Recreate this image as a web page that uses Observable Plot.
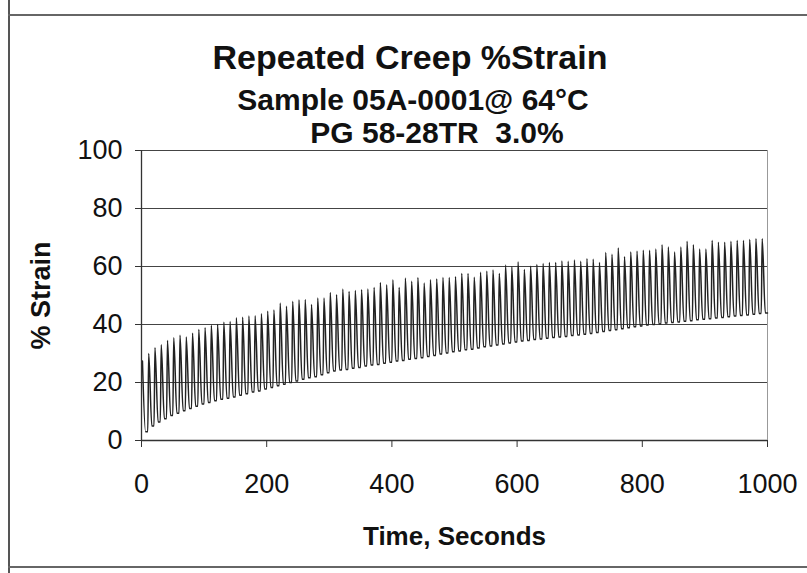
<!DOCTYPE html>
<html><head><meta charset="utf-8">
<script src="https://cdn.jsdelivr.net/npm/d3@7"></script>
<script src="https://cdn.jsdelivr.net/npm/@observablehq/plot@0.6"></script>
<style>
body{margin:0;background:#fff;}
#page{position:relative;width:807px;height:573px;overflow:hidden;font-family:"Liberation Sans",Arial,sans-serif;background:#fff;}
#head{position:relative;width:807px;height:120px;z-index:2;}
.t{position:absolute;font-weight:bold;color:#111;white-space:nowrap;transform:translateX(-50%);line-height:1;}
.edge{position:absolute;background:#555;}
#chart{position:relative;}
</style></head>
<body>
<div id="page">
  <div class="edge" style="left:8px;top:0;width:1.5px;height:573px;"></div>
  <div class="edge" style="left:8px;top:14px;width:799px;height:1.5px;background:#666;"></div>
  <div class="edge" style="left:8px;top:566px;width:799px;height:1.5px;background:#666;"></div>
  <div id="head">
    <div class="t" id="title" style="left:410px;top:40px;font-size:34px;"></div>
    <div class="t" id="sub1" style="left:413px;top:85px;font-size:30px;"></div>
    <div class="t" id="sub2" style="left:437px;top:118px;font-size:30px;"></div>
  </div>
  <div id="chart"></div>
</div>
<script>
const titleText = "Repeated Creep %Strain";
const subtitle1 = "Sample 05A-0001@ 64°C";
const subtitle2 = "PG 58-28TR\u00a0\u00a03.0%";
const xLabel = "Time, Seconds";
const yLabel = "% Strain";
const xTicks = [0, 200, 400, 600, 800, 1000];
const yTicks = [0, 20, 40, 60, 80, 100];

// peak % strain of each 10-second load cycle (100 cycles)
const peaks = [
  27.4, 30, 32, 33, 34.5, 35.4, 36.3, 35.7, 37, 38.3,
  38.9, 39.7, 40, 40.8, 41, 42.3, 42.5, 42.9, 43, 43.7,
  44.6, 45, 47.4, 46.3, 48, 48.5, 48.6, 46.9, 49.1, 49.1,
  51, 50.3, 52.2, 51.4, 51.7, 52, 52.2, 52.8, 54.5, 53.7,
  55.4, 52.8, 56, 54.9, 56.2, 54.3, 55.4, 55.7, 56.2, 56.2,
  56.5, 57.6, 57.6, 56.3, 58, 58.4, 58.8, 57.6, 60.5, 59.9,
  61.6, 59, 60.1, 60.7, 61, 61.4, 61.4, 61.9, 61.8, 62.2,
  61.8, 62.7, 62.5, 61.4, 64.8, 64.2, 66.4, 63.4, 65, 65.3,
  65.6, 65.6, 66, 67.5, 66.7, 65, 66.7, 68.7, 67.5, 66,
  66, 69, 68.4, 68.4, 68.7, 69, 69, 69.3, 69.6, 69.6
];
// recovered % strain at the end of each cycle
const troughs = [
  3.0, 5.0, 6.4, 7.5, 8.6, 9.4, 10.3, 11.0, 11.8, 12.6,
  13.1, 13.7, 14.2, 14.6, 15.0, 15.6, 16.1, 16.7, 17.1, 17.8,
  18.3, 18.9, 19.4, 20.0, 20.5, 21.1, 21.6, 22.0, 22.7, 23.4,
  24.0, 24.3, 24.5, 24.9, 25.2, 25.7, 26.0, 26.2, 26.6, 27.0,
  27.4, 27.6, 28.0, 28.3, 28.5, 29.0, 29.3, 29.8, 30.2, 30.6,
  30.9, 31.3, 31.5, 31.9, 32.3, 32.6, 32.9, 33.3, 33.6, 34.0,
  34.3, 34.5, 34.8, 35.0, 35.3, 35.5, 35.7, 35.9, 36.2, 36.4,
  36.6, 36.9, 37.2, 37.6, 37.9, 38.2, 38.5, 38.9, 39.2, 39.5,
  39.8, 40.0, 40.2, 40.5, 40.7, 40.9, 41.1, 41.3, 41.6, 41.8,
  42.0, 42.2, 42.4, 42.7, 42.9, 43.1, 43.3, 43.5, 43.8, 44.0
];
const cycleSeconds = 10;
const loadSeconds = 1.5;   // time of peak within a cycle
const settleSeconds = 6.5; // time the strain has settled near the trough

document.getElementById("title").textContent = titleText;
document.getElementById("sub1").textContent = subtitle1;
document.getElementById("sub2").textContent = subtitle2;

const rows = [];
peaks.forEach((p, k) => {
  rows.push({t: k * cycleSeconds + loadSeconds, v: p});
  rows.push({t: k * cycleSeconds + settleSeconds, v: troughs[k]});
  rows.push({t: (k + 1) * cycleSeconds, v: troughs[k]});
});

const chart = Plot.plot({
  width: 807,
  height: 453,
  marginTop: 30,
  marginBottom: 133,
  marginLeft: 141,
  marginRight: 40,
  style: {fontFamily: "'Liberation Sans', Arial, sans-serif", fontSize: "27px", color: "#111", background: "transparent"},
  x: {domain: [0, 1000]},
  y: {domain: [0, 100]},
  marks: [
    Plot.ruleY(yTicks.filter(d => d > 0), {stroke: "#444", strokeWidth: 1.1}),
    Plot.ruleX([1000], {stroke: "#999", strokeWidth: 1}),
    Plot.line(rows, {x: "t", y: "v", stroke: "#222", strokeWidth: 1.5, curve: "monotone-x"}),
    Plot.ruleY([0], {stroke: "#333", strokeWidth: 1.3}),
    Plot.ruleX([0], {stroke: "#333", strokeWidth: 1.3}),
    Plot.axisY({ticks: yTicks, tickSize: 6, tickPadding: 13, label: null, fontSize: 27, stroke: "#333"}),
    Plot.axisX({ticks: xTicks, tickSize: 7, tickPadding: 26, label: null, fontSize: 27, stroke: "#333", tickFormat: d => String(d)}),
    Plot.text([xLabel], {frameAnchor: "bottom", dy: 96, lineAnchor: "middle", fontWeight: "bold", fontSize: 26, fill: "#111"}),
    Plot.text([yLabel], {frameAnchor: "left", dx: -100, rotate: -90, textAnchor: "middle", fontWeight: "bold", fontSize: 27, fill: "#111"})
  ]
});
document.getElementById("chart").appendChild(chart);
</script>
</body></html>
